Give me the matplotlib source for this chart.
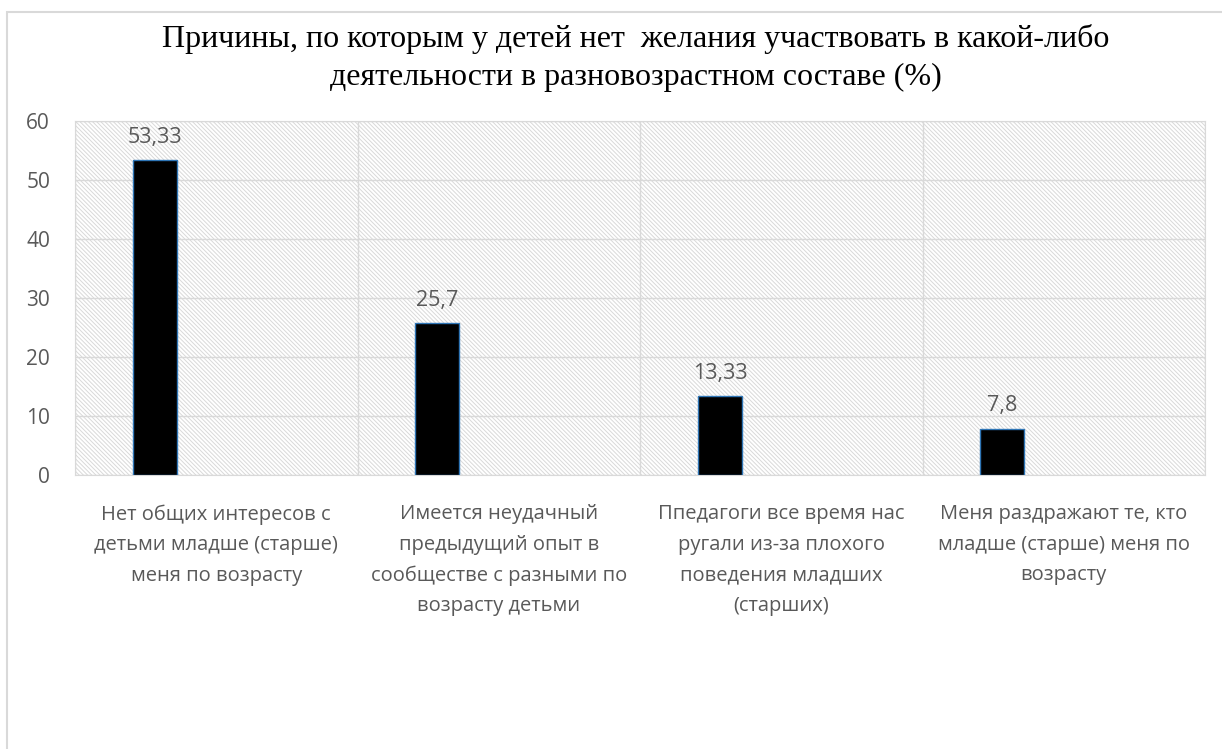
import matplotlib.pyplot as plt
from matplotlib.patches import Rectangle

plt.rcParams['hatch.color'] = '#d9d9d9'
plt.rcParams['hatch.linewidth'] = 0.7

title = ('Причины, по которым у детей нет  желания участвовать в какой-либо\n'
         'деятельности в разновозрастном составе (%)')
categories = [
    'Нет общих интересов с\nдетьми младше (старше)\nменя по возрасту',
    'Имеется неудачный\nпредыдущий опыт в\nсообществе с разными по\nвозрасту детьми',
    'Ппедагоги все время нас\nругали из-за плохого\nповедения младших\n(старших)',
    'Меня раздражают те, кто\nмладше (старше) меня по\nвозрасту',
]
values = [53.33, 25.7, 13.33, 7.8]
labels = ['53,33', '25,7', '13,33', '7,8']
yticks = [0, 10, 20, 30, 40, 50, 60]

gray = '#595959'
sans = ['Open Sans', 'DejaVu Sans']

fig = plt.figure(figsize=(12.22, 7.49), dpi=100)
fig.patches.append(Rectangle((7 / 1222, -0.01), 1.02, 1 - 12 / 749 + 0.01,
                             transform=fig.transFigure, fill=False,
                             edgecolor='#d9d9d9', linewidth=1.5))

ax = fig.add_axes([75 / 1222, 1 - 475 / 749, 1130 / 1222, 354 / 749])
ax.patch.set_facecolor('white')
ax.patch.set_hatch('\\' * 8)
ax.patch.set_edgecolor('#d9d9d9')

x = range(len(values))
pos = [i - 0.217 for i in x]
bars = ax.bar(pos, values, width=0.156, color='black', edgecolor='#2e75b6',
              linewidth=1, zorder=3)
for p, v, t in zip(pos, values, labels):
    ax.text(p, v + 3.9, t, ha='center', va='center', color=gray,
            fontsize=15.5, family=sans)

ax.set_xlim(-0.5, 3.5)
ax.set_ylim(0, 60)
ax.set_yticks(yticks)
ax.set_yticklabels([str(t) for t in yticks], color=gray, fontsize=15,
                   family=sans)
ax.set_xticks(list(x))
ax.set_xticklabels(categories, color=gray, fontsize=14.5, family=sans,
                   linespacing=1.7, va='top')
ax.tick_params(axis='both', length=0)
ax.tick_params(axis='x', pad=21)
ax.tick_params(axis='y', pad=18)
for yv in yticks:
    ax.axhline(yv, color='#d9d9d9', linewidth=1, zorder=1)
for xv in [-0.5, 0.5, 1.5, 2.5, 3.5]:
    ax.axvline(xv, color='#d9d9d9', linewidth=1, zorder=1)
for s in ax.spines.values():
    s.set_color('#d9d9d9')

fig.text(636 / 1222, 1 - 58 / 749, title, ha='center', va='center',
         fontsize=23, family='Liberation Serif', linespacing=1.43,
         color='black')

fig.savefig('out.png', dpi=100)
